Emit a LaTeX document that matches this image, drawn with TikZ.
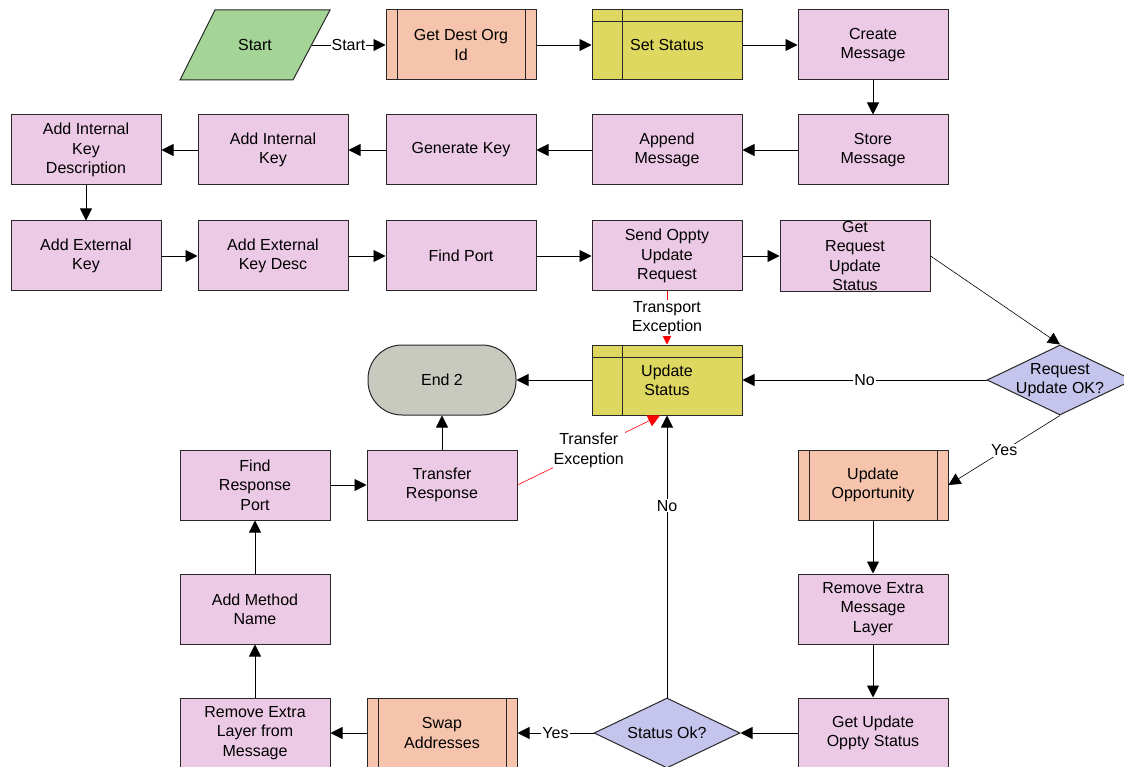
\documentclass[tikz,border=0pt]{standalone}
\usepackage{fontspec}
\setmainfont{Liberation Sans}
\usetikzlibrary{arrows.meta,shapes.geometric,calc}
\definecolor{pinkfill}{RGB}{236,202,230}
\definecolor{orangefill}{RGB}{246,196,172}
\definecolor{yellowfill}{RGB}{222,216,96}
\definecolor{greenfill}{RGB}{164,212,150}
\definecolor{lavfill}{RGB}{196,196,236}
\definecolor{grayfill}{RGB}{200,202,192}
\definecolor{boxline}{RGB}{40,40,40}
\begin{document}
\begin{tikzpicture}[x=1pt,y=-1pt,
  txt/.style={font=\fontsize{16}{19.3}\selectfont, align=center, text=black},
  box/.style={txt, draw=boxline, line width=1pt, minimum width=150pt, minimum height=70pt, inner sep=1pt},
  proc/.style={box, fill=pinkfill},
  sub/.style={box, fill=orangefill, path picture={
      \draw[boxline, line width=1pt] ($(path picture bounding box.north west)+(11pt,0pt)$) -- ($(path picture bounding box.south west)+(11pt,0pt)$);
      \draw[boxline, line width=1pt] ($(path picture bounding box.north east)+(-11pt,0pt)$) -- ($(path picture bounding box.south east)+(-11pt,0pt)$);}},
  upd/.style={box, fill=yellowfill, path picture={
      \draw[boxline, line width=1pt] ($(path picture bounding box.north west)+(30pt,0pt)$) -- ($(path picture bounding box.south west)+(30pt,0pt)$);
      \draw[boxline, line width=1pt] ($(path picture bounding box.north west)+(0pt,-12pt)$) -- ($(path picture bounding box.north east)+(0pt,-12pt)$);}},
  dec/.style={diamond, draw=boxline, line width=1pt, fill=lavfill, minimum width=146pt, minimum height=70pt, inner sep=0pt},
  term/.style={box, fill=grayfill, minimum width=148pt, rounded corners=34pt},
  parshape/.style={draw=boxline, line width=1pt, fill=greenfill},
  arr/.style={-{Triangle[length=12pt,width=12pt]}, line width=0.9pt, black},
  exc/.style={arr, red},
  lbl/.style={txt, fill=white, inner sep=1pt}
]
\useasboundingbox (0,0) rectangle (1124,767);

% start parallelogram
\draw[parshape] (180,80) -- (215,10) -- (330,10) -- (293,80) -- cycle;
\node[txt] (start) at (255,45) {Start};
\coordinate (startR) at (311.5,45);

% nodes
\node[sub] (getdest) at (461,45) {Get Dest Org\\Id};
\node[upd] (setstat) at (667,45) {Set Status};
\node[proc] (create) at (873,45) {Create\\Message};
\node[proc] (store) at (873,150) {Store\\Message};
\node[proc] (append) at (667,150) {Append\\Message};
\node[proc] (genkey) at (461,150) {Generate Key};
\node[proc] (addik) at (273,150) {Add Internal\\Key};
\node[proc] (addikd) at (86,150) {Add Internal\\Key\\Description};
\node[proc] (addek) at (86,256) {Add External\\Key};
\node[proc] (addekd) at (273,256) {Add External\\Key Desc};
\node[proc] (findport) at (461,256) {Find Port};
\node[proc] (send) at (667,256) {Send Oppty\\Update\\Request};
\node[proc] (getreq) at (855,256) {Get\\Request\\Update\\Status};
\node[dec] (reqok) at (1060,380) {};
\node[txt] (reqoktxt) at (1060,380) {Request\\Update OK?};
\node[upd] (updstat) at (667,380) {Update\\Status};
\node[term] (endtwo) at (442,380) {End 2};
\node[proc] (findresp) at (255,485) {Find\\Response\\Port};
\node[proc] (transfer) at (442,485) {Transfer\\Response};
\node[sub] (updopp) at (873,485) {Update\\Opportunity};
\node[proc] (addmeth) at (255,609) {Add Method\\Name};
\node[proc] (remextra) at (873,609) {Remove Extra\\Message\\Layer};
\node[proc] (remlayer) at (255,733) {Remove Extra\\Layer from\\Message};
\node[sub] (swap) at (442,733) {Swap\\Addresses};
\node[dec] (statok) at (667,733) {};
\node[txt] (statoktxt) at (667,733) {Status Ok?};
\node[proc] (getupd) at (873,733) {Get Update\\Oppty Status};

% connectors
\draw[arr] (startR) -- node[lbl] {Start} (getdest.west);
\draw[arr] (getdest) -- (setstat);
\draw[arr] (setstat) -- (create);
\draw[arr] (create) -- (store);
\draw[arr] (store) -- (append);
\draw[arr] (append) -- (genkey);
\draw[arr] (genkey) -- (addik);
\draw[arr] (addik) -- (addikd);
\draw[arr] (addikd) -- (addek);
\draw[arr] (addek) -- (addekd);
\draw[arr] (addekd) -- (findport);
\draw[arr] (findport) -- (send);
\draw[arr] (send) -- (getreq);
\draw[arr, line width=0.6pt] (getreq.east) -- (reqok.north);
\draw[arr] (reqok.west) -- node[lbl] {No} (updstat.east);
\draw[arr, line width=0.6pt] (reqok.south) -- node[lbl] {Yes} (updopp.east);
\draw[exc, line width=0.6pt] (send.south) -- node[lbl] {Transport\\Exception} (updstat.north);
\draw[arr] (updstat.west) -- (endtwo.east);
\draw[arr] (transfer.north) -- (endtwo.south);
\draw[exc, line width=0.6pt] (transfer.east) -- node[lbl, pos=0.5] {Transfer\\Exception} ($(updstat.south)+(-7pt,0pt)$);
\draw[arr] (updopp) -- (remextra);
\draw[arr] (remextra) -- (getupd);
\draw[arr] (getupd.west) -- (statok.east);
\draw[arr] (statok.west) -- node[lbl] {Yes} (swap.east);
\draw[arr] (swap) -- (remlayer);
\draw[arr] (statok.north) -- node[lbl, pos=0.68] {No} (updstat.south);
\draw[arr] (remlayer) -- (addmeth);
\draw[arr] (addmeth) -- (findresp);
\draw[arr] (findresp) -- (transfer);
\end{tikzpicture}
\end{document}
